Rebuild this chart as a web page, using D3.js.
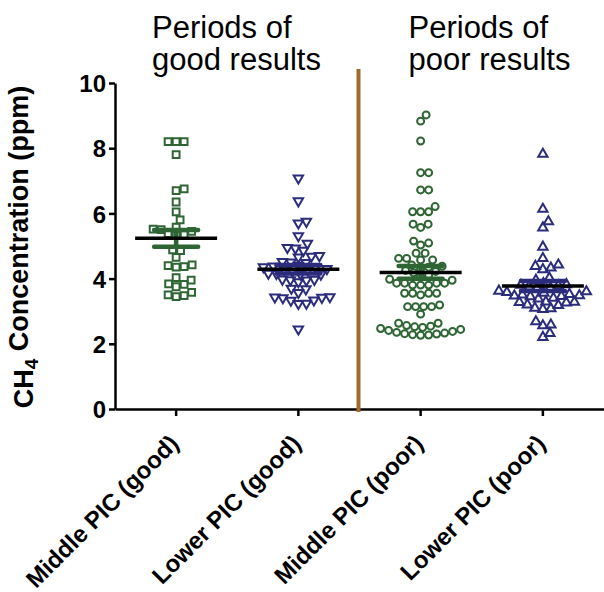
<!DOCTYPE html>
<html>
<head>
<meta charset="utf-8">
<script src="https://cdn.jsdelivr.net/npm/d3@7"></script>
<style>
    body { margin: 0; background: #fff; }
    svg { display: block; font-family: "Liberation Sans", Arial, sans-serif; }
</style>
</head>
<body>
<svg id="chart" width="604" height="592"></svg>
<script>

// Group names, in the order they sit along the x-axis.
const categories = ["Middle PIC (good)", "Lower PIC (good)", "Middle PIC (poor)", "Lower PIC (poor)"];

// CH4 readings (ppm) for each group.
const middleGood = [8.2, 8.2, 8.2, 7.8, 6.75, 6.7, 6.35, 6.05, 5.8, 5.58, 5.52, 5.5, 5.45, 5.38, 5.35,
    5.33, 4.88, 4.86, 4.65, 4.42, 4.4, 4.37, 4.35, 4.03, 3.95, 3.84, 3.82, 3.75, 3.58, 3.5, 3.48, 3.45];

const lowerGood = [7.08, 6.38, 5.75, 5.7, 5.31, 5.08, 4.95, 4.93, 4.86, 4.7, 4.68, 4.66, 4.52, 4.5, 4.49,
    4.4, 4.38, 4.36, 4.34, 4.3, 4.28, 4.25, 4.22, 4.16, 4.15, 4.14, 4.13, 3.98, 3.97, 3.96, 3.95, 3.9,
    3.7, 3.68, 3.57, 3.44, 3.43, 3.42, 3.41, 3.34, 3.33, 3.24, 3.23, 2.45];

const middlePoor = [9.02, 8.83, 8.22, 7.25, 7.25, 6.72, 6.72, 6.21, 6.05, 6.05, 6.05, 5.67, 5.67, 5.57,
    5.15, 5.09, 5.03, 4.78, 4.78, 4.62, 4.62, 4.57, 4.57, 4.42, 4.38, 4.35, 4.3, 4.25, 4.22, 4.18, 4.1,
    4.05, 3.98, 3.95, 3.86, 3.86, 3.86, 3.86, 3.8, 3.8, 3.8, 3.55, 3.55, 3.55, 3.55, 3.5, 3.19, 3.14,
    3.14, 3.14, 3.14, 2.91, 2.63, 2.63, 2.56, 2.54, 2.52, 2.5, 2.47, 2.44, 2.41, 2.38, 2.35, 2.33, 2.31,
    2.3, 2.28, 2.27, 2.26];

const lowerPoor = [7.82, 6.13, 5.75, 5.56, 4.97, 4.62, 4.42, 4.38, 4.33, 4.28, 4.02, 3.95, 3.85, 3.82,
    3.8, 3.78, 3.75, 3.72, 3.7, 3.62, 3.6, 3.58, 3.56, 3.52, 3.5, 3.48, 3.47, 3.46, 3.45, 3.4, 3.38,
    3.29, 3.28, 3.27, 3.26, 3.2, 3.18, 3.1, 3.08, 3.06, 2.68, 2.58, 2.56, 2.32, 2.2];

// Y-axis tick values and the two period headings.
const yTicks = [0, 2, 4, 6, 8, 10];
const periodTitles = [["Periods of", "good results"], ["Periods of", "poor results"]];


/**
 * @desc Lays out one column of points as a beeswarm. Points are placed from
 * lowest to highest, each at the smallest sideways offset that keeps it clear
 * of the points already placed.
 * @param {number[]} values Readings for the column.
 * @param {function} y The y scale.
 * @param {number} gap Minimum centre-to-centre distance, in pixels.
 * @returns {object[]} Points with `value`, `dx` and `y`.
 */
function swarm(values, y, gap) {
    const placed = [];

    values.slice().sort(d3.ascending).forEach((v) => {
        const py = y(v);
        let dx = 0;

        for (let k = 0; ; k++) {
            const cand = k == 0 ? 0 : (k % 2 ? 1 : -1) * Math.ceil(k / 2) * 0.5;
            if (placed.every((p) => (p.dx - cand) ** 2 + (p.y - py) ** 2 >= gap * gap)) {
                dx = cand;
                break;
            }
        }
        placed.push({ value: v, dx: dx, y: py });
    });

    return placed;
}


/**
 * @desc Draws the whole chart into #chart.
 * @returns {undefined}
 */
function draw_chart() {
    const svg = d3.select("#chart"),
        green = "#2f6534",
        navy = "#2c2c7c";

    const x = d3.scaleBand().domain(categories).range([115, 604]),
        y = d3.scaleLinear().domain([0, 10]).range([409, 83]);

    // One entry per column: values, colour and marker shape.
    const groups = [
        { name: categories[0], values: middleGood, color: green, symbol: d3.symbolSquare, size: 46, rotate: 0 },
        { name: categories[1], values: lowerGood, color: navy, symbol: d3.symbolTriangle, size: 38, rotate: 180 },
        { name: categories[2], values: middlePoor, color: green, symbol: d3.symbolCircle, size: 38, rotate: 0 },
        { name: categories[3], values: lowerPoor, color: navy, symbol: d3.symbolTriangle, size: 38, rotate: 0 }
    ];

    // Y axis.
    const yAxis = svg.append("g")
        .attr("transform", "translate(115,0)")
        .call(d3.axisLeft(y).tickValues(yTicks).tickSize(6).tickPadding(3).tickSizeOuter(0));

    yAxis.selectAll("path, line").attr("stroke", "#000").attr("stroke-width", 2.5);
    yAxis.selectAll("text")
        .attr("fill", "#000")
        .style("font-size", "24px")
        .style("font-weight", "bold")
        .attr("dy", "0.36em");

    // X axis, with the group names slanted up to the right.
    const xAxis = svg.append("g")
        .attr("transform", "translate(0,409)")
        .call(d3.axisBottom(x).tickSize(7).tickSizeOuter(0));

    xAxis.selectAll("path, line").attr("stroke", "#000").attr("stroke-width", 2.5);
    xAxis.selectAll("text")
        .attr("fill", "#000")
        .attr("x", 0)
        .attr("y", 0)
        .attr("dy", 0)
        .attr("text-anchor", "end")
        .attr("transform", "translate(4,36) rotate(-45)")
        .style("font-size", "24px")
        .style("font-weight", "bold");

    // Y axis title with the subscript 4.
    const ytitle = svg.append("text")
        .attr("transform", "translate(33,247) rotate(-90)")
        .attr("text-anchor", "middle")
        .style("font-size", "27px")
        .style("font-weight", "bold");

    ytitle.append("tspan").text("CH");
    ytitle.append("tspan").attr("dy", "0.28em").style("font-size", "19px").text("4");
    ytitle.append("tspan").attr("dy", "-0.39em").text(" Concentration (ppm)");

    // Points, error bars and mean line for each column.
    groups.forEach((g) => {
        const cx = x(g.name) + x.bandwidth() / 2,
            pts = swarm(g.values, y, 8),
            mean = d3.mean(g.values),
            sem = d3.deviation(g.values) / Math.sqrt(g.values.length);

        const col = svg.append("g").attr("class", "column");

        col.selectAll("path.pt")
            .data(pts)
            .enter()
            .append("path")
            .attr("class", "pt")
            .attr("d", d3.symbol().type(g.symbol).size(g.size))
            .attr("transform", (d) => `translate(${cx + d.dx},${d.y}) rotate(${g.rotate})`)
            .attr("fill", "none")
            .attr("stroke", g.color)
            .attr("stroke-width", 2);

        // SEM bars.
        const bar = col.append("g")
            .attr("stroke", g.color)
            .attr("stroke-width", 4.5)
            .attr("stroke-linecap", "round");

        bar.append("line")
            .attr("x1", cx).attr("x2", cx)
            .attr("y1", y(mean + sem)).attr("y2", y(mean - sem));

        [mean + sem, mean - sem].forEach((v) => {
            bar.append("line")
                .attr("x1", cx - 22).attr("x2", cx + 22)
                .attr("y1", y(v)).attr("y2", y(v));
        });

        // Mean.
        col.append("line")
            .attr("x1", cx - 41).attr("x2", cx + 41)
            .attr("y1", y(mean)).attr("y2", y(mean))
            .attr("stroke", "#000")
            .attr("stroke-width", 3.5);
    });

    // Brown divider between the good and poor periods.
    const divX = x(categories[2]) - 1;
    svg.append("line")
        .attr("x1", divX).attr("x2", divX)
        .attr("y1", y(10.43)).attr("y2", y(0) + 3)
        .attr("stroke", "#a16b2c")
        .attr("stroke-width", 4);

    // Period headings, two lines each.
    periodTitles.forEach((lines, i) => {
        const tx = i == 0 ? x(categories[0]) + 37 : x(categories[2]) + 49;

        svg.append("text")
            .attr("y", 38)
            .style("font-size", "31px")
            .selectAll("tspan")
            .data(lines)
            .enter()
            .append("tspan")
            .attr("x", tx)
            .attr("dy", (d, j) => j == 0 ? 0 : 32)
            .text((d) => d);
    });
}

draw_chart();
</script>
</body>
</html>
